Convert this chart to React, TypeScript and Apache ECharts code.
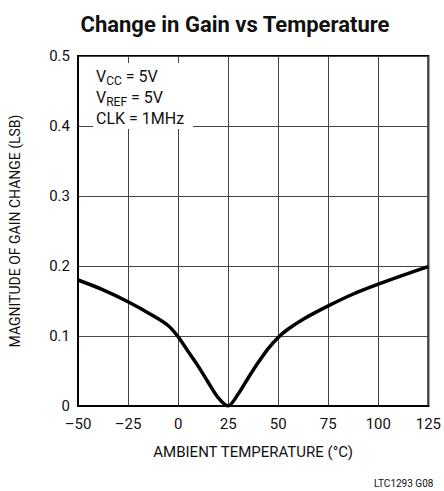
import React, { useEffect, useRef } from "react";
import * as echarts from "echarts";

const temps = [-50, -37.5, -25, -12.5, -5, 0, 5, 10, 15, 20, 25, 30, 35, 40, 45, 50, 55, 62.5, 75, 87.5, 100, 112.5, 125];
const gain = [0.18, 0.166, 0.149, 0.129, 0.115, 0.099, 0.078, 0.057, 0.034, 0.012, 0, 0.017, 0.04, 0.062, 0.082, 0.098, 0.11, 0.124, 0.143, 0.16, 0.174, 0.187, 0.199];
const xTicks = [-50, -25, 0, 25, 50, 75, 100, 125];
const yTicks = [0, 0.1, 0.2, 0.3, 0.4, 0.5];

const FONT = "Roboto, 'Liberation Sans', sans-serif";

export default function App() {
  const ref = useRef<HTMLDivElement>(null);
  useEffect(() => {
    if (!ref.current) return;
    const chart = echarts.init(ref.current, null, { renderer: "svg" });
    chart.setOption({
      animation: false,
      backgroundColor: "#fff",
      title: {
        text: "Change in Gain vs Temperature",
        left: 230,
        textAlign: "center",
        top: 8,
        textStyle: { fontFamily: FONT, fontWeight: "bold", fontSize: 22, color: "#111" },
      },
      grid: { left: 78, top: 56, right: 14, bottom: 85, show: true, borderColor: "#000", borderWidth: 2, backgroundColor: "transparent" },
      xAxis: {
        type: "value",
        min: xTicks[0],
        max: xTicks[xTicks.length - 1],
        interval: 25,
        name: "AMBIENT TEMPERATURE (°C)",
        nameLocation: "middle",
        nameGap: 38,
        nameTextStyle: { fontFamily: FONT, fontSize: 15, color: "#111" },
        axisLine: { show: true, onZero: false, lineStyle: { color: "#000", width: 2 } },
        axisTick: { show: false },
        axisLabel: {
          fontFamily: FONT,
          fontSize: 15,
          color: "#111",
          margin: 10,
          formatter: (v: number) => (v < 0 ? "\u2013" + Math.abs(v) : String(v)),
        },
        splitLine: { show: true, lineStyle: { color: "#444", width: 1 } },
      },
      yAxis: {
        type: "value",
        min: yTicks[0],
        max: yTicks[yTicks.length - 1],
        interval: 0.1,
        name: "MAGNITUDE OF GAIN CHANGE (LSB)",
        nameLocation: "middle",
        nameGap: 56,
        nameRotate: 90,
        nameTextStyle: { fontFamily: FONT, fontSize: 14, color: "#111" },
        axisLine: { show: true, onZero: false, lineStyle: { color: "#000", width: 2 } },
        axisTick: { show: false },
        axisLabel: {
          fontFamily: FONT,
          fontSize: 15,
          color: "#111",
          margin: 8,
          formatter: (v: number) => (v === 0 ? "0" : v.toFixed(1)),
        },
        splitLine: { show: true, lineStyle: { color: "#444", width: 1 } },
      },
      series: [
        {
          type: "line",
          data: temps.map((t, i) => [t, gain[i]]),
          smooth: 0.3,
          showSymbol: false,
          lineStyle: { color: "#000", width: 3.5 },
          z: 5,
        },
      ],
      graphic: [
        { type: "rect", shape: { x: 93, y: 63, width: 100, height: 66 }, style: { fill: "#fff" }, z: 10 },
        {
          type: "text",
          x: 96,
          y: 66,
          z: 11,
          style: {
            text: "{n|V}{s|CC}{n| = 5V}\n{n|V}{s|REF}{n| = 5V}\n{n|CLK = 1MHz}",
            rich: {
              n: { fontFamily: FONT, fontSize: 16, fill: "#111", lineHeight: 21 },
              s: { fontFamily: FONT, fontSize: 12, fill: "#111", lineHeight: 21, verticalAlign: "bottom", padding: [6, 0, 0, 0] },
            },
          },
        },
        {
          type: "text",
          x: 374,
          y: 478,
          z: 11,
          style: { text: "LTC1293 G08", fontFamily: FONT, fontSize: 10, fill: "#111" },
        },
      ],
    });
    return () => chart.dispose();
  }, []);
  return <div ref={ref} style={{ position: "fixed", left: 0, top: 0, width: 444, height: 491 }} />;
}
